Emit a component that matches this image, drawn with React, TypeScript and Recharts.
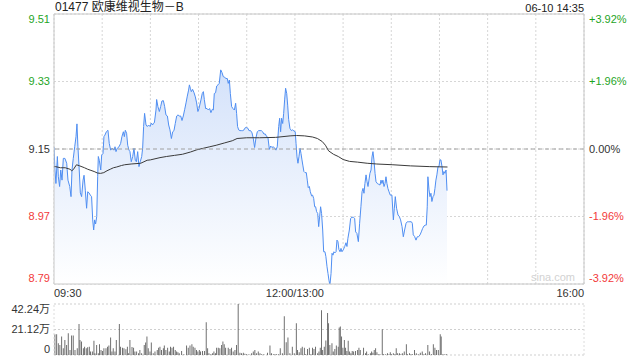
import React from 'react';
import {
  ComposedChart,
  Area,
  Line,
  XAxis,
  YAxis,
  CartesianGrid,
  ReferenceLine,
  BarChart,
  Bar,
} from 'recharts';

const stockTitle = '01477 欧康维视生物－B';
const stamp = '06-10 14:35';
const watermark = 'sina.com';
const prevClose = 9.15;
const priceTicks = [8.79, 8.97, 9.15, 9.33, 9.51];
const pctTicks = [-3.92, -1.96, 0, 1.96, 3.92];
const timeTicks = [0, 30, 60, 90, 120, 150, 180, 210, 240, 270, 300, 330];
const timeLabels: Record<number, string> = { 0: '09:30', 150: '12:00/13:00', 330: '16:00' };
const volTicks = [0, 21.12, 42.24];
const volTickLabels: Record<number, string> = { 0: '0', 21.12: '21.12万', 42.24: '42.24万' };

// [minutes since 09:30 (trading time), price]
const pricePoints: [number, number][] = [
  [0, 9.155], [0.6, 9.094], [1.2, 9.058], [2.1, 9.13], [2.7, 9.076], [3.5, 9.05], [4.2, 9.094], [5.0, 9.067],
  [5.8, 9.125], [6.8, 9.125], [7.9, 9.112], [8.7, 9.067], [9.8, 9.05], [10.6, 9.023], [11.2, 9.094], [12.0, 9.125],
  [12.9, 9.156], [13.7, 9.183], [14.3, 9.217], [14.9, 9.156], [15.8, 9.086], [16.4, 9.033], [17.2, 9.023], [18.1, 9.067],
  [18.7, 9.08], [19.5, 9.04], [20.3, 8.992], [21.0, 9.036], [21.8, 9.033], [22.6, 9.027], [23.4, 9.023], [24.1, 8.961],
  [24.7, 8.934], [25.3, 8.961], [25.9, 8.95], [26.6, 8.97], [27.2, 9.076], [27.6, 9.13], [28.2, 9.12], [29.1, 9.094],
  [29.7, 9.134], [30.5, 9.138], [31.1, 9.183], [31.7, 9.187], [32.6, 9.196], [33.6, 9.2], [34.4, 9.165], [35.3, 9.147],
  [36.1, 9.152], [37.4, 9.147], [38.0, 9.156], [38.6, 9.143], [39.4, 9.152], [40.5, 9.156], [41.5, 9.165], [42.3, 9.183],
  [43.2, 9.196], [43.8, 9.183], [44.4, 9.2], [45.2, 9.192], [45.9, 9.16], [46.7, 9.147], [47.3, 9.143], [48.1, 9.116],
  [49.0, 9.13], [49.8, 9.152], [50.6, 9.12], [51.3, 9.116], [52.1, 9.143], [52.9, 9.103], [53.7, 9.116], [54.6, 9.13],
  [55.2, 9.152], [55.8, 9.21], [56.4, 9.245], [57.3, 9.214], [58.1, 9.21], [58.9, 9.214], [59.8, 9.21], [60.6, 9.219],
  [61.4, 9.214], [61.8, 9.218], [62.5, 9.22], [63.5, 9.254], [63.9, 9.282], [64.7, 9.263], [65.6, 9.25], [66.4, 9.263],
  [67.2, 9.278], [68.1, 9.279], [68.9, 9.263], [69.7, 9.241], [70.6, 9.238], [71.4, 9.214], [72.2, 9.201], [73.1, 9.178],
  [73.9, 9.196], [74.7, 9.199], [75.5, 9.218], [76.4, 9.238], [77.2, 9.241], [78.0, 9.238], [78.9, 9.238], [79.7, 9.226],
  [80.5, 9.238], [81.4, 9.256], [82.2, 9.273], [83.0, 9.291], [83.8, 9.307], [84.3, 9.321], [84.9, 9.312], [85.5, 9.303],
  [86.3, 9.309], [87.2, 9.3], [88.0, 9.289], [88.8, 9.273], [89.6, 9.25], [90.3, 9.258], [90.9, 9.27], [91.5, 9.281],
  [92.3, 9.298], [93.0, 9.303], [93.6, 9.282], [94.4, 9.258], [95.3, 9.258], [96.1, 9.254], [96.9, 9.258], [97.7, 9.247],
  [98.6, 9.256], [99.2, 9.254], [99.8, 9.298], [100.6, 9.3], [101.3, 9.318], [102.1, 9.321], [102.9, 9.325], [103.8, 9.361],
  [104.6, 9.354], [105.4, 9.343], [106.3, 9.341], [107.1, 9.338], [107.9, 9.338], [108.5, 9.325], [109.2, 9.334], [109.8, 9.298],
  [110.6, 9.263], [111.4, 9.258], [112.3, 9.254], [113.1, 9.272], [113.7, 9.245], [114.3, 9.21], [115.0, 9.201], [115.8, 9.199],
  [116.6, 9.199], [117.5, 9.199], [118.3, 9.201], [119.1, 9.207], [120.0, 9.207], [120.8, 9.205], [121.4, 9.199], [122.4, 9.199],
  [123.3, 9.193], [124.1, 9.178], [124.9, 9.154], [125.8, 9.181], [126.6, 9.196], [127.4, 9.199], [128.3, 9.199], [129.1, 9.199],
  [129.9, 9.196], [130.7, 9.19], [131.6, 9.19], [132.4, 9.183], [133.2, 9.181], [134.1, 9.149], [134.9, 9.158], [135.7, 9.154],
  [136.6, 9.156], [137.4, 9.152], [138.2, 9.147], [139.0, 9.156], [139.9, 9.21], [140.5, 9.232], [141.1, 9.196], [141.7, 9.232],
  [142.4, 9.218], [143.0, 9.245], [143.6, 9.281], [144.2, 9.312], [144.9, 9.298], [145.5, 9.267], [146.1, 9.229], [146.9, 9.205],
  [147.8, 9.199], [148.6, 9.201], [149.4, 9.198], [150.2, 9.196], [150.7, 9.165], [151.3, 9.129], [151.9, 9.112], [152.5, 9.129],
  [153.2, 9.152], [153.8, 9.138], [154.4, 9.121], [155.0, 9.105], [155.6, 9.09], [156.3, 9.087], [157.1, 9.087], [157.7, 9.067],
  [158.3, 9.047], [159.0, 9.05], [159.6, 9.036], [160.4, 9.025], [161.0, 9.027], [161.7, 9.018], [162.3, 8.996], [162.9, 8.996],
  [163.5, 8.983], [164.2, 8.978], [164.8, 8.943], [165.4, 8.97], [166.0, 8.996], [166.6, 8.978], [167.3, 8.934], [167.9, 8.876],
  [168.7, 8.876], [169.3, 8.863], [170.0, 8.836], [170.6, 8.818], [171.2, 8.8], [171.8, 8.787], [172.5, 8.818], [173.1, 8.872],
  [173.7, 8.867], [174.3, 8.876], [174.9, 8.873], [175.6, 8.876], [176.2, 8.907], [176.8, 8.903], [177.4, 8.882], [178.1, 8.876],
  [178.7, 8.885], [179.3, 8.876], [180.1, 8.881], [181.0, 8.89], [181.8, 8.9], [182.4, 8.89], [183.0, 8.912], [183.9, 8.934],
  [184.7, 8.965], [185.5, 8.968], [186.4, 8.968], [187.2, 8.965], [187.8, 8.929], [188.6, 8.925], [189.5, 8.903], [190.3, 8.952],
  [191.1, 8.996], [191.8, 9.036], [192.4, 9.045], [193.0, 9.032], [193.6, 9.058], [194.3, 9.081], [194.9, 9.063], [195.5, 9.05],
  [196.1, 9.067], [196.7, 9.085], [197.4, 9.094], [198.0, 9.129], [198.6, 9.143], [199.2, 9.121], [199.9, 9.085], [200.5, 9.063],
  [201.3, 9.058], [202.1, 9.056], [203.0, 9.054], [203.6, 9.067], [204.2, 9.058], [204.8, 9.067], [205.5, 9.05], [206.1, 9.058],
  [206.7, 9.076], [207.3, 9.058], [207.9, 9.045], [208.6, 9.036], [209.4, 9.027], [210.4, 9.027], [211.3, 8.961], [211.9, 8.992],
  [212.5, 9.023], [213.3, 8.992], [214.2, 8.974], [215.0, 8.97], [215.8, 8.961], [216.7, 8.943], [217.5, 8.916], [218.3, 8.934],
  [219.2, 8.952], [220.0, 8.956], [220.8, 8.956], [221.6, 8.956], [222.5, 8.956], [223.1, 8.952], [223.7, 8.921], [224.5, 8.917],
  [225.4, 8.907], [226.2, 8.916], [227.0, 8.916], [227.9, 8.921], [228.7, 8.929], [229.5, 8.938], [230.4, 8.945], [231.2, 8.947],
  [231.8, 8.947], [232.4, 8.996], [232.8, 9.076], [233.5, 9.041], [234.1, 9.023], [234.7, 9.032], [235.3, 9.01], [236.0, 9.023],
  [236.6, 9.027], [237.2, 9.045], [237.8, 9.067], [238.4, 9.081], [239.1, 9.103], [239.7, 9.103], [240.3, 9.121], [240.9, 9.121],
  [241.6, 9.103], [242.2, 9.081], [242.8, 9.09], [243.4, 9.085], [244.1, 9.094], [244.7, 9.039],
];

// [minutes, average price]
const avgPoints: [number, number][] = [
  [0, 9.103], [1, 9.103], [4, 9.1], [7, 9.1], [10, 9.096], [11, 9.092], [12, 9.095], [14, 9.108], [16, 9.105],
  [19, 9.1], [21, 9.096], [23, 9.093], [25, 9.09], [27, 9.086], [29, 9.085], [31, 9.087], [33, 9.092], [35, 9.096],
  [37, 9.1], [39, 9.102], [42, 9.106], [44, 9.108], [48, 9.11], [54, 9.112], [56, 9.116], [58, 9.12], [60, 9.121],
  [66, 9.127], [70, 9.13], [75, 9.133], [80, 9.136], [85, 9.142], [89, 9.148], [93, 9.152], [97, 9.156], [101, 9.16],
  [106, 9.166], [111, 9.172], [114, 9.178], [120, 9.18], [128, 9.18], [138, 9.181], [147, 9.185], [151, 9.186],
  [156, 9.185], [161, 9.182], [164, 9.178], [167, 9.17], [169, 9.16], [171, 9.145], [174, 9.136], [177, 9.13],
  [180, 9.122], [184, 9.117], [189, 9.115], [195, 9.112], [201, 9.11], [211, 9.108], [222, 9.105], [234, 9.103], [245, 9.102],
];

// [minutes, volume in 万]
const volumePoints: [number, number][] = [
  [0.6, 17.2], [1.7, 17.2], [2.7, 9.7], [3.7, 8.3], [4.8, 15.3], [5.8, 5.6], [6.8, 12.5], [7.9, 8.3], [8.9, 18.1],
  [10.0, 4.2], [11.0, 16.1], [12.0, 16.1], [13.1, 4.2], [14.5, 5.6], [15.6, 25.6], [16.2, 12.5], [17.2, 11.1],
  [18.3, 5.6], [19.1, 6.9], [20.1, 5.6], [21.0, 6.4], [22.0, 6.9], [22.8, 2.8], [23.9, 2.8], [24.9, 11.7], [25.5, 1.4],
  [26.6, 8.3], [27.6, 1.4], [28.4, 8.9], [29.3, 4.2], [30.3, 3.3], [31.1, 5.6], [32.4, 5.6], [33.4, 6.9], [34.2, 7.8],
  [35.3, 14.5], [36.1, 2.8], [36.9, 5.6], [38.0, 2.8], [38.8, 12.5], [40.7, 25.6], [41.5, 6.9], [42.7, 6.1], [43.6, 5.6],
  [44.8, 4.7], [45.7, 6.9], [46.5, 1.4], [47.3, 12.5], [48.6, 6.7], [49.6, 6.1], [50.4, 2.8], [51.5, 2.8], [52.7, 1.4],
  [53.5, 4.2], [54.6, 1.4], [56.2, 8.3], [57.1, 10.3], [57.9, 15.3], [58.7, 5.6], [59.8, 2.8], [60.6, 10.3], [61.8, 1.4],
  [62.9, 2.8], [64.3, 4.2], [65.2, 6.1], [66.0, 6.9], [67.0, 4.2], [68.1, 5.6], [68.7, 7.8], [69.7, 4.2], [70.8, 6.1],
  [71.8, 2.8], [72.6, 6.9], [73.5, 6.1], [74.5, 6.9], [75.5, 4.2], [76.4, 2.8], [77.2, 2.2], [78.0, 1.4], [79.5, 3.3],
  [80.9, 0.6], [82.6, 7.8], [83.6, 6.1], [84.7, 7.8], [85.9, 8.9], [86.7, 6.9], [87.8, 6.1], [88.8, 4.2], [89.6, 2.8],
  [90.5, 4.2], [91.3, 2.8], [92.5, 3.3], [93.8, 3.3], [94.8, 27.2], [95.7, 5.6], [96.5, 1.4], [97.7, 0.6], [98.8, 1.4],
  [99.6, 2.8], [100.6, 1.4], [101.3, 6.1], [102.3, 6.1], [103.3, 5.6], [104.4, 8.3], [105.2, 11.1], [106.0, 8.9],
  [106.9, 6.1], [108.5, 6.1], [109.6, 5.0], [110.6, 6.1], [111.6, 2.8], [112.7, 4.2], [113.7, 8.3], [114.7, 42.24],
  [115.8, 1.9], [116.8, 1.4], [117.9, 1.9], [118.9, 1.1], [119.9, 0.6], [121.4, 0.6], [123.1, 1.4], [124.1, 2.8],
  [125.1, 4.2], [126.2, 1.4], [127.2, 2.8], [128.3, 1.4], [129.3, 0.6], [130.7, 0.6], [133.0, 1.9], [134.5, 7.8],
  [135.5, 1.4], [136.6, 0.6], [137.6, 0.6], [138.6, 0.6], [139.7, 0.6], [140.9, 5.6], [142.2, 1.4], [143.4, 32.0],
  [144.6, 10.6], [145.7, 14.5], [146.9, 1.4], [148.4, 6.9], [149.6, 1.4], [150.9, 26.4], [151.7, 4.2], [152.7, 2.2],
  [153.8, 5.6], [154.6, 6.9], [155.9, 6.1], [156.7, 0.6], [157.9, 5.0], [159.0, 6.1], [160.0, 0.6], [161.0, 6.1],
  [161.9, 5.0], [162.9, 6.9], [164.2, 1.4], [165.0, 2.8], [165.8, 6.1], [166.6, 37.0], [167.3, 4.2], [168.3, 6.9],
  [169.3, 12.0], [170.4, 34.7], [171.0, 26.4], [171.8, 8.3], [173.1, 9.7], [173.9, 2.8], [174.9, 5.0], [175.8, 7.8],
  [177.0, 6.9], [177.6, 22.8], [178.3, 23.6], [179.1, 15.3], [179.9, 6.1], [180.8, 12.5], [181.6, 6.1], [182.4, 3.3],
  [183.2, 11.7], [184.1, 2.8], [184.9, 1.4], [185.7, 3.3], [186.6, 2.8], [187.8, 3.3], [189.1, 4.2], [189.9, 6.1],
  [190.7, 4.2], [192.8, 6.1], [194.0, 1.4], [194.7, 2.8], [195.7, 0.6], [197.0, 1.4], [197.8, 2.8], [198.6, 1.9],
  [199.4, 4.2], [200.3, 5.6], [201.1, 2.2], [201.9, 0.6], [203.0, 0.6], [204.4, 21.4], [205.2, 0.6], [206.3, 0.6],
  [207.7, 1.4], [208.6, 0.6], [209.4, 2.2], [210.2, 0.6], [211.3, 1.4], [212.3, 0.6], [213.1, 5.6], [214.0, 1.4],
  [215.2, 1.4], [216.0, 0.6], [216.9, 1.4], [218.1, 2.8], [219.4, 8.9], [220.2, 0.6], [221.4, 1.4], [222.3, 0.6],
  [223.3, 0.6], [224.5, 4.2], [225.6, 1.4], [226.8, 0.6], [228.1, 1.9], [229.3, 2.8], [230.4, 0.6], [231.4, 1.4],
  [232.8, 8.3], [233.9, 2.8], [235.1, 0.6], [236.2, 8.9], [237.2, 6.1], [238.2, 4.2], [239.3, 4.2], [240.5, 17.2],
  [241.1, 15.3], [242.2, 0.6], [243.4, 0.6], [244.5, 0.6],
];

const GREEN = '#1fa51f';
const RED = '#f23a3a';
const NEUTRAL = '#333333';
const FONT = "Arial, 'Liberation Sans', 'Noto Sans CJK SC', sans-serif";

const priceData = pricePoints.map(([t, p]) => ({ t, p }));
const avgData = avgPoints.map(([t, a]) => ({ t, a }));
const volData = volumePoints.map(([t, v]) => ({ t, v }));

const colorFor = (diff: number) => (Math.abs(diff) < 1e-9 ? NEUTRAL : diff > 0 ? GREEN : RED);
const edgeShift = (v: number, min: number, max: number) =>
  Math.abs(v - max) < 1e-9 ? 5 : Math.abs(v - min) < 1e-9 ? -6 : 0;

const PriceTick = (props: any) => {
  const { x, y, payload } = props;
  const v = payload.value as number;
  return (
    <text x={x} y={y + edgeShift(v, 8.79, 9.51)} dy="0.35em" textAnchor="end" fontSize={11} fill={colorFor(v - prevClose)}>
      {v.toFixed(2)}
    </text>
  );
};

const PctTick = (props: any) => {
  const { x, y, payload } = props;
  const v = payload.value as number;
  const label = (v > 0 ? '+' : '') + v.toFixed(2) + '%';
  return (
    <text x={x} y={y + edgeShift(v, -3.92, 3.92)} dy="0.35em" textAnchor="start" fontSize={11} fill={colorFor(v)}>
      {label}
    </text>
  );
};

const TimeTick = (props: any) => {
  const { x, y, payload } = props;
  const v = payload.value as number;
  const label = timeLabels[v];
  if (!label) return <g />;
  const anchor = v === 0 ? 'start' : v === 330 ? 'end' : 'middle';
  return (
    <text x={x} y={y} dy="0.71em" textAnchor={anchor} fontSize={11} fill="#333">
      {label}
    </text>
  );
};

const VolTick = (props: any) => {
  const { x, y, payload } = props;
  const v = payload.value as number;
  return (
    <text x={x} y={y + edgeShift(v, 0, 42.24)} dy="0.35em" textAnchor="end" fontSize={11} fill="#333">
      {volTickLabels[v] ?? String(v)}
    </text>
  );
};

export default function App() {
  return (
    <div style={{ position: 'absolute', left: 0, top: 0, width: 640, height: 360, background: '#fff', fontFamily: FONT }}>
      <div style={{ position: 'absolute', left: 55, top: 0, fontSize: 12, lineHeight: '15px', color: '#222', whiteSpace: 'nowrap' }}>
        {stockTitle}
      </div>
      <div style={{ position: 'absolute', right: 56, top: 1, fontSize: 11, lineHeight: '14px', color: '#222', whiteSpace: 'nowrap' }}>
        {stamp}
      </div>
      <div style={{ position: 'absolute', left: 0, top: 0 }}>
        <ComposedChart width={640} height={300} data={priceData} margin={{ top: 14, right: 0, bottom: 0, left: 0 }}>
          <defs>
            <linearGradient id="areaFill" x1="0" y1="0" x2="0" y2="1">
              <stop offset="0%" stopColor="#d4e2fa" stopOpacity={1} />
              <stop offset="100%" stopColor="#ffffff" stopOpacity={1} />
            </linearGradient>
          </defs>
          <CartesianGrid yAxisId="p" stroke="#d6d6d6" strokeDasharray="2 2" />
          <XAxis
            dataKey="t"
            type="number"
            domain={[0, 330]}
            ticks={timeTicks}
            interval={0}
            tick={TimeTick}
            tickLine={false}
            axisLine={false}
            tickSize={0}
            tickMargin={5}
            height={16}
            allowDataOverflow
          />
          <YAxis
            yAxisId="p"
            type="number"
            domain={[8.79, 9.51]}
            ticks={priceTicks}
            interval={0}
            width={54}
            tick={PriceTick}
            tickLine={false}
            axisLine={false}
            tickSize={0}
            tickMargin={4}
            allowDataOverflow
          />
          <YAxis
            yAxisId="pct"
            orientation="right"
            type="number"
            domain={[-3.92, 3.92]}
            ticks={pctTicks}
            interval={0}
            width={56}
            tick={PctTick}
            tickLine={false}
            axisLine={false}
            tickSize={0}
            tickMargin={5}
            allowDataOverflow
          />
          <Area
            yAxisId="p"
            dataKey="p"
            type="linear"
            stroke="#4f8ef2"
            strokeWidth={1}
            fill="url(#areaFill)"
            fillOpacity={1}
            dot={false}
            activeDot={false}
            isAnimationActive={false}
          />
          <Line
            yAxisId="p"
            data={avgData}
            dataKey="a"
            type="linear"
            stroke="#3a3a3a"
            strokeWidth={1}
            dot={false}
            activeDot={false}
            isAnimationActive={false}
          />
          <ReferenceLine yAxisId="pct" y={0} stroke="#a0a0a0" strokeDasharray="4 3" />
          <ReferenceLine yAxisId="p" y={9.51} stroke="#c8c8c8" />
          <ReferenceLine yAxisId="p" y={8.79} stroke="#c8c8c8" />
          <ReferenceLine yAxisId="p" x={0} stroke="#c8c8c8" />
          <ReferenceLine yAxisId="p" x={330} stroke="#c8c8c8" />
        </ComposedChart>
      </div>
      <div style={{ position: 'absolute', left: 531, top: 270, fontSize: 11, lineHeight: '14px', color: '#d2d2d2', whiteSpace: 'nowrap' }}>
        {watermark}
      </div>
      <div style={{ position: 'absolute', left: 0, top: 296 }}>
        <BarChart width={640} height={64} data={volData} margin={{ top: 8, right: 56, bottom: 5, left: 0 }}>
          <CartesianGrid stroke="#cfcfcf" strokeDasharray="2 2" vertical={false} />
          <XAxis dataKey="t" type="number" domain={[0, 330]} hide allowDataOverflow />
          <YAxis
            type="number"
            domain={[0, 42.24]}
            ticks={volTicks}
            interval={0}
            width={54}
            tick={VolTick}
            tickLine={false}
            axisLine={false}
            tickSize={0}
            tickMargin={4}
            allowDataOverflow
          />
          <ReferenceLine x={0} stroke="#dcdcdc" strokeDasharray="2 2" />
          <ReferenceLine x={330} stroke="#dcdcdc" strokeDasharray="2 2" />
          <Bar dataKey="v" fill="#5a5a5a" barSize={1} isAnimationActive={false} />
        </BarChart>
      </div>
    </div>
  );
}
